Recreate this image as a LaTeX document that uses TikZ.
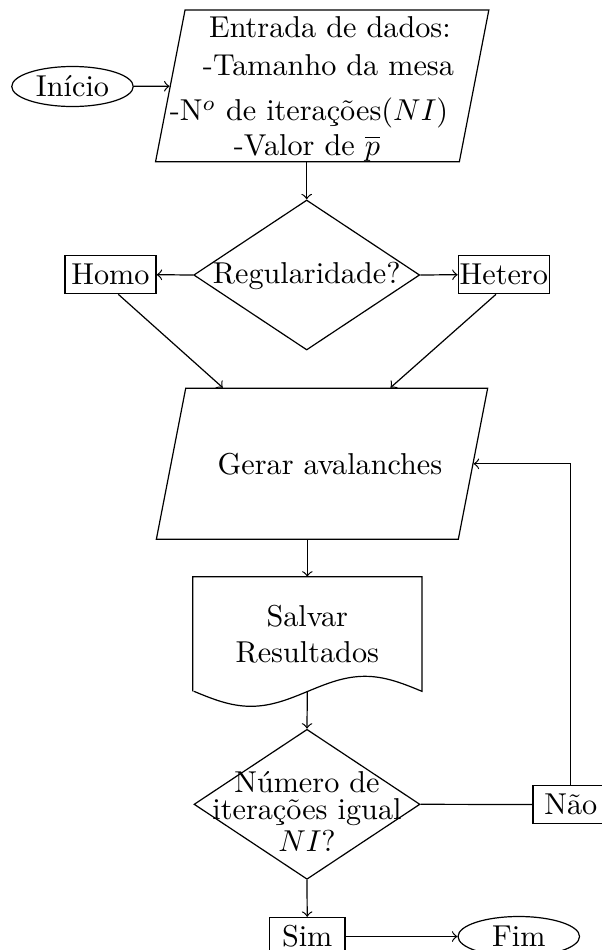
\documentclass[tikz,border=0pt]{standalone}
\usetikzlibrary{shapes.geometric,calc}

% one drawing unit
\newlength\pxu
\setlength\pxu{0.331pt}
% text box of zero size, baseline shifted by #1 units from the node centre
\newcommand\zerobox[2]{\raisebox{#1\pxu}[0pt][0pt]{\makebox[0pt]{#2}}}

\begin{document}
\begin{tikzpicture}[
  x=0.331pt, y=-0.331pt,
  ovalbox/.style={ellipse, draw, inner sep=0pt, minimum width=121.5*\pxu, minimum height=40*\pxu},
  iobox/.style={trapezium, trapezium left angle=79, trapezium right angle=101, draw, inner sep=0pt},
  decision/.style={diamond, draw, inner sep=0pt, minimum width=226*\pxu, minimum height=150*\pxu},
  rectbox/.style={rectangle, draw, inner sep=0pt, minimum height=38*\pxu},
  docbox/.style={rectangle, inner sep=0pt, align=center, minimum width=228*\pxu, minimum height=113.4*\pxu},
  arrow/.style={->},
]
\useasboundingbox (0,0) rectangle (602,950);

% start / end
\node[ovalbox] (inicio) at (72.5,86.5) {Início};
\node[ovalbox] (fim) at (518.8,936.5) {Fim};

% data input
\node[iobox] (entrada) at (322.2,85.85) {\parbox[c][151.7\pxu][t]{274.3\pxu}{\centering
  \rule{0pt}{27.3\pxu}\hspace*{15.6\pxu}Entrada de dados:\\[0.5pt]
  \hspace*{12.6\pxu}-Tamanho da mesa\\[3.2pt]
  \hspace*{-26.4\pxu}-N$^o$ de iterações$(NI)$\\[-0.7pt]
  \hspace*{-30.4\pxu}-Valor de $\overline{p}$}};

% regularity test
\node[decision] (reg) at (306.7,275) {\zerobox{-8.3}{Regularidade?}};
\node[rectbox, minimum width=91*\pxu] (homo) at (110.5,274.7) {Homo};
\node[rectbox, minimum width=91*\pxu] (hetero) at (503.8,274.7) {Hetero};

% avalanche generation
\node[iobox] (gerar) at (322,463.8) {\parbox[c][151\pxu][c]{272.6\pxu}{\centering
  \hspace*{16\pxu}Gerar avalanches}};

% saving results (document symbol)
\node[docbox] (salvar) at (307.3,634) {Salvar\\Resultados};
\draw (salvar.south west) -- (salvar.north west) -- (salvar.north east) -- (salvar.south east)
  sin ++(-57,-15) cos ++(-57,15) sin ++(-57,15) cos ++(-57,-15);

% iteration test
\node[decision] (fimiter) at (307,804.3) {\zerobox{-46.7}{\begin{tabular}[b]{@{}c@{}}Número de\\[-3.2pt]iterações igual\\[-1.5pt]$NI$?\end{tabular}}};
\node[rectbox, minimum width=75.7*\pxu] (nao) at (570.8,804.5) {Não};
\node[rectbox, minimum width=75.7*\pxu] (sim) at (307.2,936.5) {Sim};

% connectors
\draw[arrow] (inicio) -- (entrada);
\draw[arrow] (entrada.south -| reg.north) -- (reg.north);
\draw[arrow] (reg.west) -- (homo.east);
\draw[arrow] (reg.east) -- (hetero.west);
\draw[arrow] ($(homo.south)+(7.8,0)$) -- ($(gerar.top left corner)!0.124!(gerar.top right corner)$);
\draw[arrow] ($(hetero.south)+(-7.8,0)$) -- ($(gerar.top left corner)!0.677!(gerar.top right corner)$);
\draw[arrow] (gerar.south -| salvar.north) -- (salvar.north);
\draw[arrow] (salvar.south) -- (fimiter.north);
\draw (fimiter.east) -- (nao.west);
\draw[arrow] (nao.north) |- (gerar);
\draw[arrow] (fimiter.south) -- (sim.north);
\draw[arrow] (sim.east) -- (fim.west);
\end{tikzpicture}
\end{document}
